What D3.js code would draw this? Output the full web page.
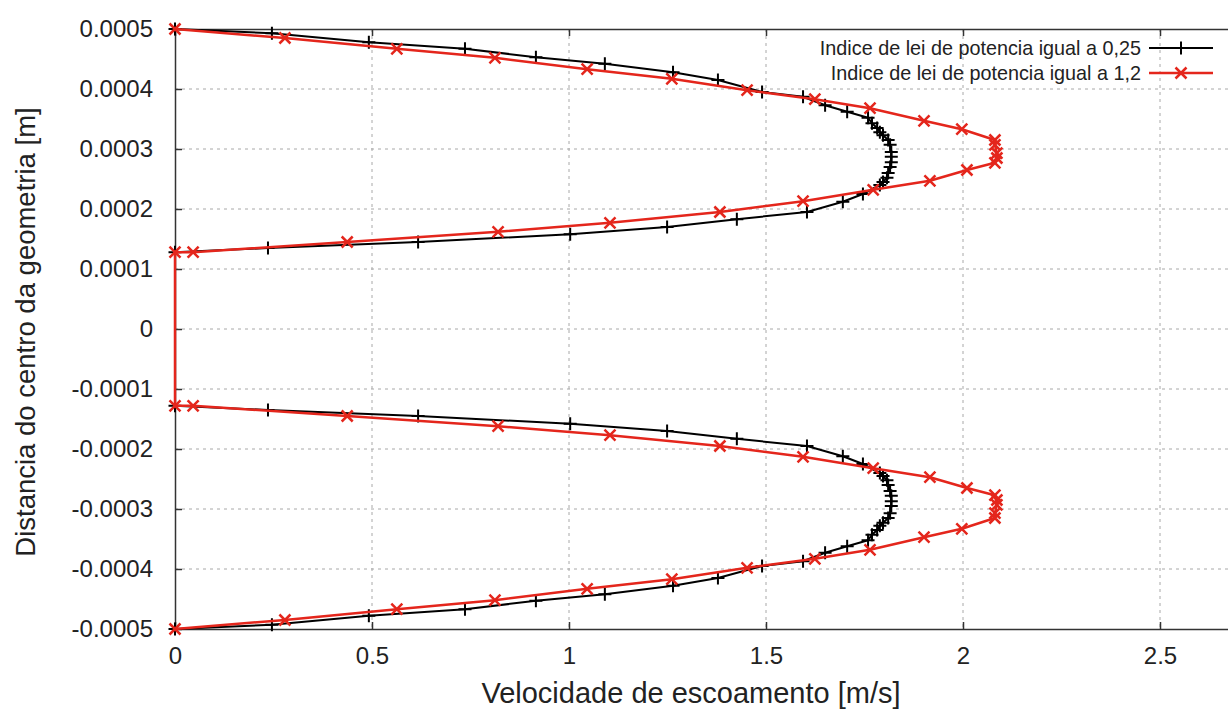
<!DOCTYPE html>
<html>
<head>
<meta charset="utf-8">
<script src="https://cdn.jsdelivr.net/npm/d3@7"></script>
<style>
  body { margin: 0; background: #fff; }
  svg { display: block; overflow: hidden; }
  text { font-family: "Liberation Sans", Arial, sans-serif; fill: #222; }
</style>
</head>
<body>
<svg id="chart" width="1228" height="711"></svg>
<script>
// velocity [m/s] and distance [m] for each profile, top wall -> inner wall -> bottom wall
const blackVel = [
  0, 0.246, 0.492, 0.736, 0.916, 1.091, 1.264, 1.378, 1.490, 1.594, 1.650, 1.706,
  1.759, 1.769, 1.782, 1.789, 1.797, 1.810, 1.815, 1.818, 1.818, 1.818, 1.815,
  1.810, 1.807, 1.797, 1.789, 1.746, 1.695, 1.604, 1.426, 1.249, 1.003, 0.617, 0.236, 0,
  0, 0.236, 0.617, 1.003, 1.249, 1.426, 1.604, 1.695, 1.746, 1.789, 1.797, 1.807,
  1.810, 1.815, 1.818, 1.818, 1.818, 1.815, 1.810, 1.797, 1.789, 1.782, 1.769,
  1.759, 1.706, 1.650, 1.594, 1.490, 1.378, 1.264, 1.091, 0.916, 0.736, 0.492, 0.246, 0
];
const blackDist = [
  0.0005, 0.000493, 0.000478, 0.000467, 0.000453, 0.000442, 0.000428, 0.000415, 0.000395, 0.000387, 0.000373, 0.000362,
  0.000352, 0.000343, 0.000335, 0.000328, 0.000323, 0.000315, 0.000307, 0.000295, 0.000287, 0.000278, 0.000270,
  0.000260, 0.000252, 0.000245, 0.000240, 0.000225, 0.000212, 0.000195, 0.000183, 0.000170, 0.000158, 0.000145, 0.000135, 0.000128,
  -0.000128, -0.000135, -0.000145, -0.000158, -0.000170, -0.000183, -0.000195, -0.000212, -0.000225, -0.000240, -0.000245, -0.000252,
  -0.000260, -0.000270, -0.000278, -0.000287, -0.000295, -0.000307, -0.000315, -0.000323, -0.000328, -0.000335, -0.000343,
  -0.000352, -0.000362, -0.000373, -0.000387, -0.000395, -0.000415, -0.000428, -0.000442, -0.000453, -0.000467, -0.000478, -0.000493, -0.0005
];
const redVel = [
  0, 0.279, 0.563, 0.812, 1.046, 1.261, 1.452, 1.624, 1.764, 1.901, 1.997, 2.081, 2.081,
  2.086, 2.086, 2.081, 2.010, 1.916, 1.772, 1.594, 1.383, 1.104, 0.820, 0.437, 0.046, 0,
  0, 0.046, 0.437, 0.820, 1.104, 1.383, 1.594, 1.772, 1.916, 2.010, 2.081, 2.086,
  2.086, 2.081, 2.081, 1.997, 1.901, 1.764, 1.624, 1.452, 1.261, 1.046, 0.812, 0.563, 0.279, 0
];
const redDist = [
  0.0005, 0.000485, 0.000467, 0.000452, 0.000433, 0.000417, 0.000398, 0.000383, 0.000368, 0.000347, 0.000333, 0.000315, 0.000307,
  0.000293, 0.000285, 0.000277, 0.000265, 0.000247, 0.000232, 0.000213, 0.000195, 0.000177, 0.000162, 0.000145, 0.000128, 0.000128,
  -0.000128, -0.000128, -0.000145, -0.000162, -0.000177, -0.000195, -0.000213, -0.000232, -0.000247, -0.000265, -0.000277, -0.000285,
  -0.000293, -0.000307, -0.000315, -0.000333, -0.000347, -0.000368, -0.000383, -0.000398, -0.000417, -0.000433, -0.000452, -0.000467, -0.000485, -0.0005
];
const seriesNames = ["Indice de lei de potencia igual a 0,25", "Indice de lei de potencia igual a 1,2"];
const xTicks = [0, 0.5, 1, 1.5, 2, 2.5];
const xTickLabels = ["0", "0.5", "1", "1.5", "2", "2.5"];
const yTicks = [0.0005, 0.0004, 0.0003, 0.0002, 0.0001, 0, -0.0001, -0.0002, -0.0003, -0.0004, -0.0005];
const yTickLabels = ["0.0005", "0.0004", "0.0003", "0.0002", "0.0001", "0", "-0.0001", "-0.0002", "-0.0003", "-0.0004", "-0.0005"];

const svg = d3.select("#chart");
const plotLeft = 175, plotTop = 29, plotBottom = 629, plotRight = 1357;

// the frame runs past the right edge of the picture (x max 3)
const x = d3.scaleLinear().domain([0, 3]).range([plotLeft, plotRight]);
const y = d3.scaleLinear().domain([-0.0005, 0.0005]).range([plotBottom, plotTop]);

// grid
const grid = svg.append("g").attr("stroke", "#a8a8a8").attr("stroke-width", 1).attr("stroke-dasharray", "3,4");
grid.selectAll(".gx").data(xTicks.slice(1)).join("line")
  .attr("x1", d => x(d)).attr("x2", d => x(d)).attr("y1", plotTop).attr("y2", plotBottom);
grid.selectAll(".gy").data(yTicks.slice(1, -1)).join("line")
  .attr("x1", plotLeft).attr("x2", plotRight).attr("y1", d => y(d)).attr("y2", d => y(d));

// axes, gnuplot-like inward ticks mirrored
const axisColor = "#333";
const xAxis = d3.axisBottom(x).tickValues(xTicks).tickFormat((d, i) => xTickLabels[i]).tickSizeInner(-7).tickSizeOuter(0).tickPadding(18);
const xAxisTop = d3.axisTop(x).tickValues(xTicks).tickFormat("").tickSizeInner(-7).tickSizeOuter(0);
const yAxis = d3.axisLeft(y).tickValues(yTicks).tickFormat((d, i) => yTickLabels[i]).tickSizeInner(-7).tickSizeOuter(0).tickPadding(22);

const gx = svg.append("g").attr("transform", `translate(0,${plotBottom})`).call(xAxis);
const gxt = svg.append("g").attr("transform", `translate(0,${plotTop})`).call(xAxisTop);
const gy = svg.append("g").attr("transform", `translate(${plotLeft},0)`).call(yAxis);
[gx, gxt, gy].forEach(g => {
  g.select(".domain").attr("stroke", axisColor).attr("stroke-width", 1.5);
  g.selectAll(".tick line").attr("stroke", axisColor).attr("stroke-width", 1.5);
  g.selectAll(".tick text").attr("font-size", 24).attr("fill", "#222")
    .attr("font-family", "'Liberation Sans', Arial, sans-serif");
});
gx.selectAll(".tick text").attr("dy", "0.71em");

// axis titles
svg.append("text").attr("x", 691).attr("y", 703)
  .attr("text-anchor", "middle").attr("font-size", 29)
  .text("Velocidade de escoamento [m/s]");
svg.append("text").attr("transform", "translate(35,332) rotate(-90)")
  .attr("text-anchor", "middle").attr("font-size", 27.5)
  .text("Distancia do centro da geometria [m]");

const line = d3.line().x(d => x(d[0])).y(d => y(d[1]));

function plusPath(s) { return `M${-s},0H${s}M0,${-s}V${s}`; }
function crossPath(s) { return `M${-s},${-s}L${s},${s}M${-s},${s}L${s},${-s}`; }

function drawSeries(vel, dist, color, width, markerPath, markerWidth) {
  const pts = vel.map((v, i) => [v, dist[i]]);
  svg.append("path").datum(pts)
    .attr("d", line).attr("fill", "none").attr("stroke", color)
    .attr("stroke-width", width).attr("stroke-linejoin", "round");
  svg.append("g").selectAll("path").data(pts).join("path")
    .attr("transform", d => `translate(${x(d[0])},${y(d[1])})`)
    .attr("d", markerPath).attr("fill", "none").attr("stroke", color)
    .attr("stroke-width", markerWidth);
}

const black = "#000000", red = "#e4261c";
drawSeries(blackVel, blackDist, black, 2, plusPath(6.5), 2);
drawSeries(redVel, redDist, red, 2.5, crossPath(5.5), 2.5);

// legend
const legend = svg.append("g");
const legendRows = [
  { name: seriesNames[0], color: black, w: 2, mark: plusPath(6.5), mw: 2 },
  { name: seriesNames[1], color: red, w: 2.5, mark: crossPath(5.5), mw: 2.5 }
];
legendRows.forEach((r, i) => {
  const ly = 48 + i * 25;
  legend.append("text").attr("x", 1141).attr("y", ly + 7).attr("text-anchor", "end")
    .attr("font-size", 19.8).text(r.name);
  legend.append("line").attr("x1", 1149).attr("x2", 1213).attr("y1", ly).attr("y2", ly)
    .attr("stroke", r.color).attr("stroke-width", r.w);
  legend.append("path").attr("transform", `translate(1181,${ly})`).attr("d", r.mark)
    .attr("fill", "none").attr("stroke", r.color).attr("stroke-width", r.mw);
});
</script>
</body>
</html>
